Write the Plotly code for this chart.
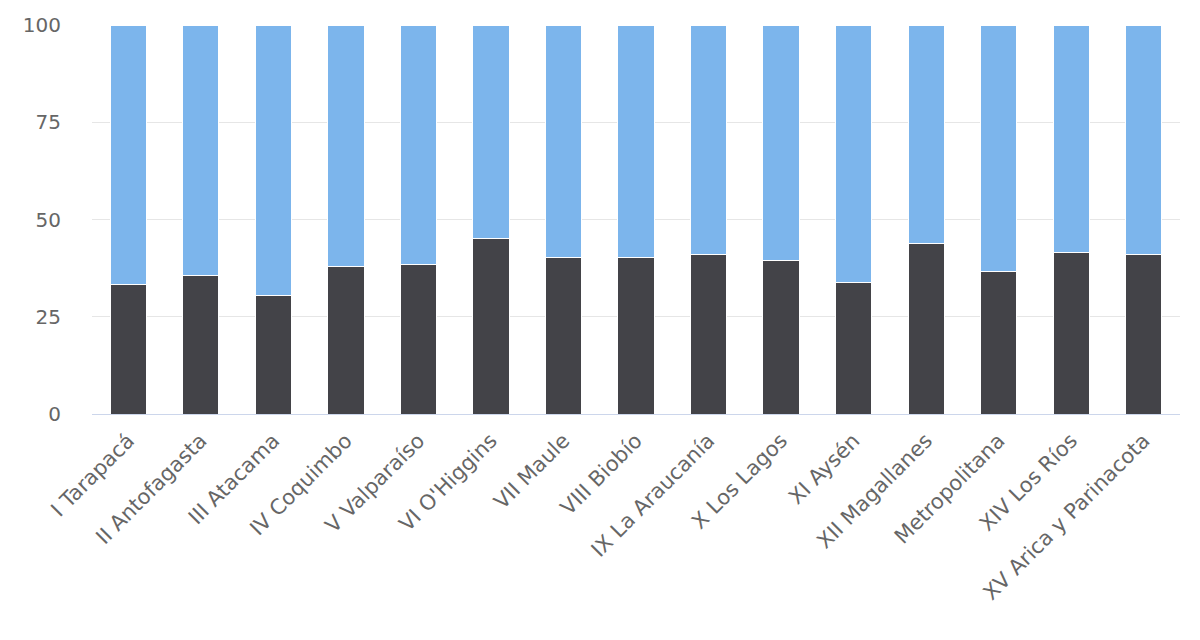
"""Stacked percentage bars by region."""

import plotly.graph_objects as go

regions = [
    "I Tarapacá",
    "II Antofagasta",
    "III Atacama",
    "IV Coquimbo",
    "V Valparaíso",
    "VI O'Higgins",
    "VII Maule",
    "VIII Biobío",
    "IX La Araucanía",
    "X Los Lagos",
    "XI Aysén",
    "XII Magallanes",
    "Metropolitana",
    "XIV Los Ríos",
    "XV Arica y Parinacota",
]
dark_share = [33.2, 35.7, 30.5, 37.8, 38.4, 45.0, 40.3, 40.3, 40.9, 39.4, 33.7, 43.9, 36.7, 41.4, 40.9]
light_share = [round(100 - v, 1) for v in dark_share]

fig = go.Figure()
fig.add_bar(
    x=regions,
    y=dark_share,
    name="Serie 1",
    marker={"color": "#434348", "line": {"color": "#ffffff", "width": 1}},
)
fig.add_bar(
    x=regions,
    y=light_share,
    name="Serie 2",
    marker={"color": "#7cb5ec", "line": {"color": "#ffffff", "width": 1}},
)

# page has an 8px body margin, so the figure is a bit smaller than the window
fig.update_layout(
    barmode="stack",
    bargap=0.5,
    width=1184,
    height=624,
    margin={"l": 84, "r": 12, "t": 17, "b": 218},
    paper_bgcolor="#ffffff",
    plot_bgcolor="#ffffff",
    showlegend=False,
    font={"family": "DejaVu Sans, sans-serif", "color": "#666666"},
)
fig.update_xaxes(
    tickangle=-45,
    tickfont={"size": 21, "color": "#666666"},
    showline=True,
    linecolor="#ccd6eb",
    linewidth=1,
    showgrid=False,
    ticks="",
    ticklabelstandoff=5,
    automargin=False,
)
fig.update_yaxes(
    range=[0, 100],
    tickvals=[0, 25, 50, 75, 100],
    tickfont={"size": 20, "color": "#666666"},
    gridcolor="#e6e6e6",
    gridwidth=1,
    zeroline=False,
    showline=False,
    ticklabelstandoff=30,
    automargin=False,
)

fig.write_html("out.html")
